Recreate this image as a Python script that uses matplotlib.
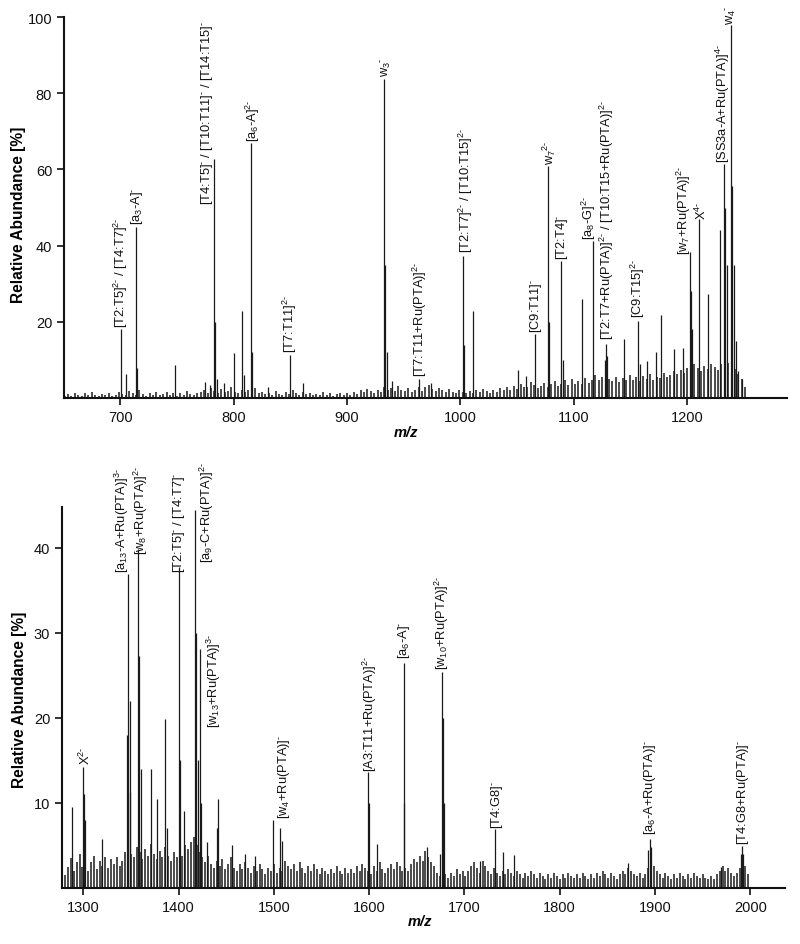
import numpy as np
import matplotlib
matplotlib.use("Agg")
import matplotlib.pyplot as plt

plt.rcParams['font.family'] = ['Liberation Sans', 'DejaVu Sans']
plt.rcParams['mathtext.fontset'] = 'custom'
plt.rcParams['mathtext.rm'] = 'Liberation Sans'
plt.rcParams['mathtext.it'] = 'Liberation Sans:italic'
plt.rcParams['mathtext.bf'] = 'Liberation Sans:bold'
plt.rcParams['mathtext.default'] = 'regular'

# ---------------- top panel data ----------------
top_peak_mz = [700.6, 705, 714, 715, 748.5, 775, 779, 783, 784, 785.5, 791.6, 800.5, 807.6, 809,
               815, 816, 830, 849.6, 861, 932.5, 933.5, 935, 939.6, 963.6, 974, 1002.2, 1003,
               1010.7, 1050.4, 1057.5, 1066, 1077, 1078, 1089, 1090, 1106.8, 1116.5, 1127, 1128,
               1129, 1144, 1156.5, 1158, 1164, 1172.7, 1176.8, 1188.5, 1196.5, 1202, 1203, 1204,
               1210.3, 1218.5, 1229, 1232.6, 1233.5, 1234.5, 1238.5, 1239.7, 1241.5, 1243, 1245, 1248]
top_peak_int = [18, 6.3, 45, 8, 8.7, 4.2, 3.5, 62.7, 20, 5, 4, 11.8, 22.9, 6,
                67, 12, 3, 11.3, 4, 83.7, 35, 12, 4.5, 5, 4, 37.3, 14,
                22.9, 7.3, 5.9, 16.8, 61, 20, 36, 10, 26, 41.3, 10, 14.2,
                11, 15.5, 20.3, 9, 9.8, 12, 21.8, 12.9, 13, 38.3, 28, 18,
                47, 27.3, 44, 61.4, 50, 35, 98, 55.7, 35, 15, 7, 5]

top_noise_start = 651
top_noise_step = 3
top_noise = [0.5, 1.0, 0.6, 1.4, 0.8, 0.5, 1.2, 0.7, 1.6, 0.9, 0.6, 1.1, 0.8, 1.3, 0.5, 0.9, 1.5, 1.0, 0.7, 1.8,
             1.2, 0.8, 2.0, 1.0, 0.6, 1.3, 0.9, 1.5, 0.7, 1.1, 1.7, 0.8, 1.2, 0.6, 1.4, 0.9, 1.9, 1.1, 0.7, 1.3,
             1.6, 2.2, 1.4, 2.6, 1.8, 1.2, 2.4, 1.5, 1.9, 2.8, 1.7, 1.2, 2.1, 1.5, 2.0, 1.3, 2.5, 1.2, 1.6, 1.0,
             1.4, 0.8, 1.9, 1.1, 0.7, 1.5, 1.0, 2.0, 1.2, 0.8, 1.6, 1.0, 1.3, 0.7, 1.1, 0.9, 1.5, 0.8, 1.2, 0.6,
             1.0, 1.4, 0.8, 1.2, 0.9, 1.6, 1.1, 2.0, 1.5, 2.4, 1.8, 1.3, 2.2, 1.6, 3.0, 2.0, 2.6, 1.8, 3.2, 2.2,
             1.8, 2.6, 1.5, 2.2, 3.0, 1.9, 2.8, 3.4, 2.4, 1.8, 2.6, 2.0, 1.6, 2.4, 1.7, 1.3, 2.0, 1.5, 1.2, 1.8,
             1.4, 2.0, 1.6, 2.4, 1.8, 1.4, 2.2, 1.7, 2.6, 2.0, 2.8, 2.2, 3.2, 2.4, 3.6, 2.8, 3.0, 4.2, 3.4, 2.6,
             3.2, 4.0, 3.0, 3.6, 4.4, 3.2, 3.8, 4.6, 3.4, 5.0, 3.8, 4.4, 3.6, 5.2, 4.0, 4.8, 6.0, 4.6, 5.4, 6.4,
             5.0, 4.4, 5.6, 4.2, 5.2, 4.6, 6.0, 4.8, 5.4, 4.4, 5.8, 5.0, 6.2, 4.8, 5.6, 5.2, 6.6, 5.4, 6.0, 7.0,
             6.2, 7.4, 6.6, 8.0, 7.2, 9.0, 8.0, 7.2, 8.4, 7.6, 9.0, 8.2, 7.4, 8.8, 10.0, 9.2, 8.4, 7.6, 6.4, 5.0,
             3.0]

top_labels = [
    (700.6, 18.6, r"[T2:T5]$^{2\text{-}}$ / [T4:T7]$^{2\text{-}}$"),
    (714.7, 45.7, r"[a$_{3}$-A]$^{\text{-}}$"),
    (776.5, 51.0, r"[T4:T5]$^{\text{-}}$ / [T10:T11]$^{\text{-}}$ / [T14:T15]$^{\text{-}}$"),
    (816.6, 67.5, r"[a$_{6}$-A]$^{2\text{-}}$"),
    (850.0, 12.0, r"[T7:T11]$^{2\text{-}}$"),
    (934.0, 84.4, r"w$_{3}$$^{\text{-}}$"),
    (964.6, 5.9, r"[T7:T11+Ru(PTA)]$^{2\text{-}}$"),
    (1004.5, 38.2, r"[T2:T7]$^{2\text{-}}$ / [T10:T15]$^{2\text{-}}$"),
    (1066.2, 17.3, r"[C9:T11]$^{\text{-}}$"),
    (1078.3, 61.4, r"w$_{7}$$^{2\text{-}}$"),
    (1089.8, 36.5, r"[T2:T4]$^{\text{-}}$"),
    (1113.0, 41.7, r"[a$_{8}$-G]$^{2\text{-}}$"),
    (1128.7, 15.5, r"[T2:T7+Ru(PTA)]$^{2\text{-}}$ / [T10:T15+Ru(PTA)]$^{2\text{-}}$"),
    (1156.5, 21.2, r"[C9:T15]$^{2\text{-}}$"),
    (1196.8, 37.8, r"[w$_{7}$+Ru(PTA)]$^{2\text{-}}$"),
    (1212.8, 47.0, r"X$^{4\text{-}}$"),
    (1231.0, 61.9, r"[SS3a-A+Ru(PTA)]$^{4\text{-}}$"),
    (1238.2, 98.2, r"w$_{4}$$^{\text{-}}$"),
]

# ---------------- bottom panel data ----------------
bot_peak_mz = [1288.5, 1300, 1301, 1302, 1320, 1346, 1347.2, 1348.5, 1349.5, 1357.7, 1358.6, 1360,
               1371.4, 1377.3, 1385.7, 1388, 1400.4, 1401.5, 1405.7, 1417.5, 1418.5, 1420, 1422.5,
               1424, 1429.8, 1440, 1441.7, 1456, 1470, 1480, 1499.4, 1506.7, 1508, 1599, 1600,
               1607.8, 1636.2, 1637, 1660.3, 1674, 1676.4, 1677.3, 1678.2, 1716.3, 1732.3, 1740.4,
               1752.3, 1871.9, 1893, 1894.3, 1895.5, 1969.8, 1990, 1991.2, 1992.5]
bot_peak_int = [9.5, 14.2, 11, 8, 5.8, 18, 36.9, 22, 11.3, 39.9, 27.3, 14,
                14, 10.5, 19.9, 7, 37.7, 15, 9, 44.4, 30, 15, 28.1,
                10, 5.4, 7, 10.5, 5, 4, 3.8, 8, 7, 5.5, 13.6, 10,
                5.2, 26.5, 10, 4.8, 4, 25.4, 20, 10, 3.2, 6.9, 4.2,
                3.9, 2.9, 4.5, 5.8, 4.8, 2.5, 4, 4.9, 4]

bot_noise_start = 1281
bot_noise_step = 3
bot_noise = [1.5, 2.5, 3.5, 2.0, 3.0, 4.0, 2.5, 3.5, 2.0, 3.0, 3.8, 2.2, 3.2, 2.6, 3.6, 2.4, 3.4, 2.8, 3.6, 2.6,
             3.2, 4.2, 5.0, 4.0, 3.6, 4.8, 4.2, 3.4, 4.6, 3.8, 5.2, 4.0, 3.4, 4.4, 3.6, 4.8, 3.8, 3.2, 4.2, 3.6,
             4.4, 3.8, 5.0, 4.6, 5.4, 6.0, 5.0, 4.2, 3.6, 3.0, 3.8, 2.8, 2.4, 3.2, 2.6, 3.4, 2.2, 2.8, 3.6, 2.4,
             2.0, 2.8, 2.2, 3.0, 2.4, 1.8, 2.6, 2.0, 2.8, 2.2, 1.6, 2.4, 2.0, 2.8, 1.8, 2.4, 2.0, 3.2, 2.6, 2.2,
             2.8, 2.0, 3.0, 2.4, 1.8, 2.6, 2.0, 2.8, 2.2, 1.6, 2.4, 2.0, 1.6, 2.2, 1.8, 2.6, 2.0, 1.6, 2.4, 1.8,
             2.2, 1.8, 2.6, 2.0, 2.8, 2.4, 2.0, 1.6, 2.6, 2.0, 3.0, 2.2, 1.8, 2.4, 2.8, 2.2, 3.0, 2.6, 2.0, 2.4,
             2.0, 2.8, 3.4, 3.0, 3.8, 3.2, 4.4, 3.6, 3.0, 2.6, 1.8, 1.4, 2.0, 1.6, 1.2, 1.8, 1.4, 2.2, 1.6, 2.0,
             1.4, 2.0, 2.6, 3.0, 2.4, 1.8, 3.2, 2.6, 2.0, 1.6, 2.4, 1.8, 1.4, 2.0, 1.6, 2.2, 1.8, 1.4, 2.0, 1.6,
             1.2, 1.8, 1.4, 2.0, 1.6, 1.2, 1.8, 1.4, 1.0, 1.6, 1.2, 1.8, 1.4, 1.0, 1.6, 1.2, 1.8, 1.4, 1.2, 1.6,
             1.2, 1.8, 1.4, 1.0, 1.6, 1.2, 1.8, 1.4, 2.0, 1.6, 1.2, 1.8, 1.4, 1.0, 1.6, 2.0, 1.6, 2.4, 2.0, 1.6,
             1.4, 1.8, 1.2, 1.6, 2.4, 2.0, 2.6, 2.0, 1.6, 1.2, 1.8, 1.4, 1.0, 1.6, 1.2, 1.8, 1.4, 1.0, 1.6, 1.2,
             1.8, 1.4, 1.2, 1.6, 1.2, 1.0, 1.4, 1.0, 1.6, 2.0, 2.6, 2.0, 2.4, 1.8, 1.4, 1.8, 2.4, 3.0, 2.6, 1.6]

bot_labels = [
    (1302.5, 14.6, r"X$^{2\text{-}}$"),
    (1340.3, 37.1, r"[a$_{13}$-A+Ru(PTA)]$^{3\text{-}}$"),
    (1360.5, 39.3, r"[w$_{8}$+Ru(PTA)]$^{2\text{-}}$"),
    (1400.0, 37.2, r"[T2:T5]$^{\text{-}}$ / [T4:T7]$^{\text{-}}$"),
    (1429.2, 38.3, r"[a$_{9}$-C+Ru(PTA)]$^{2\text{-}}$"),
    (1437.5, 18.9, r"[w$_{13}$+Ru(PTA)]$^{3\text{-}}$"),
    (1510.6, 8.2, r"[w$_{4}$+Ru(PTA)]$^{\text{-}}$"),
    (1600.8, 13.8, r"[A3:T11+Ru(PTA)]$^{2\text{-}}$"),
    (1636.5, 27.1, r"[a$_{6}$-A]$^{\text{-}}$"),
    (1676.0, 25.8, r"[w$_{10}$+Ru(PTA)]$^{2\text{-}}$"),
    (1734.4, 7.1, r"[T4:G8]$^{\text{-}}$"),
    (1895.0, 6.35, r"[a$_{6}$-A+Ru(PTA)]$^{\text{-}}$"),
    (1992.2, 5.2, r"[T4:G8+Ru(PTA)]$^{\text{-}}$"),
]

top_xticks = [700, 800, 900, 1000, 1100, 1200]
top_yticks = [20, 40, 60, 80, 100]
bot_xticks = [1300, 1400, 1500, 1600, 1700, 1800, 1900, 2000]
bot_yticks = [10, 20, 30, 40]

LC = '#1a1a1a'

fig = plt.figure(figsize=(8.0, 9.45), dpi=100)
ax1 = fig.add_axes([0.08, 1 - 399 / 945, 0.904, 381 / 945])
ax2 = fig.add_axes([0.0775, 1 - 889 / 945, 0.904, 381 / 945])


def draw(ax, nstart, nstep, noise, pmz, pint, labels, xlim, ylim, xt, yt):
    nmz = nstart + nstep * np.arange(len(noise))
    ax.vlines(nmz, 0, noise, color=LC, lw=1.1)
    ax.vlines(pmz, 0, pint, color=LC, lw=0.9)
    for x, y, s in labels:
        ax.text(x, y, s, rotation=90, ha='center', va='bottom', fontsize=9.3, color='#111111')
    ax.set_xlim(*xlim)
    ax.set_ylim(*ylim)
    ax.set_xticks(xt)
    ax.set_yticks(yt)
    for sp in ['top', 'right']:
        ax.spines[sp].set_visible(False)
    for sp in ['left', 'bottom']:
        ax.spines[sp].set_linewidth(1.5)
        ax.spines[sp].set_color('#111111')
    ax.tick_params(direction='out', length=5, width=1.2, labelsize=10.5, colors='#111111')
    ax.set_ylabel('Relative Abundance [%]', fontsize=11.2, fontweight='bold')
    ax.set_xlabel('m/z', fontsize=10.5, fontweight='bold', fontstyle='italic')


draw(ax1, top_noise_start, top_noise_step, top_noise, top_peak_mz, top_peak_int, top_labels,
     (650.5, 1288), (0, 100), top_xticks, top_yticks)
draw(ax2, bot_noise_start, bot_noise_step, bot_noise, bot_peak_mz, bot_peak_int, bot_labels,
     (1277.6, 2036.7), (0, 44.8), bot_xticks, bot_yticks)

ax1.yaxis.set_label_coords(-0.053, 0.483)
ax2.yaxis.set_label_coords(-0.048, 0.496)
ax1.xaxis.set_label_coords(0.473, -0.072)
ax2.xaxis.set_label_coords(0.495, -0.068)

fig.savefig('out.png', dpi=100)
